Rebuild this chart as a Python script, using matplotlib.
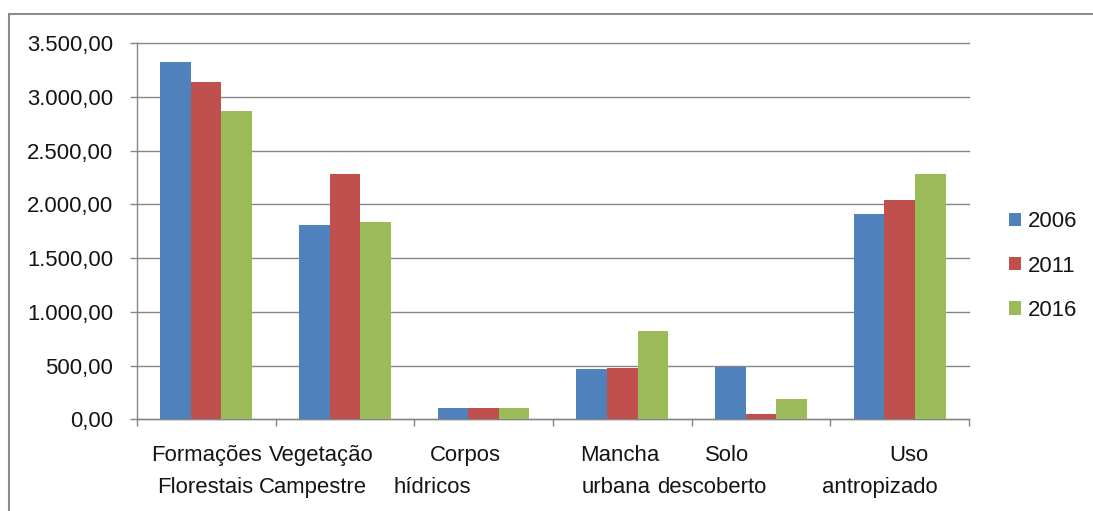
import matplotlib
matplotlib.use("Agg")
import matplotlib.pyplot as plt
from matplotlib.patches import Rectangle
from matplotlib.ticker import FuncFormatter
import matplotlib.transforms as mtransforms
import numpy as np

plt.rcParams['font.family'] = ['Liberation Sans', 'DejaVu Sans']

categories = [("Formações", "Florestais"), ("Vegetação", "Campestre"), ("Corpos", "hídricos"),
              ("Mancha", "urbana"), ("Solo", "descoberto"), ("Uso", "antropizado")]
series_names = ["2006", "2011", "2016"]
v2006 = [3329, 1812, 108, 465, 487, 1908]
v2011 = [3140, 2286, 108, 475, 49, 2038]
v2016 = [2867, 1837, 108, 819, 192, 2286]
yticks = [0, 500, 1000, 1500, 2000, 2500, 3000, 3500]

colors = ["#4F81BD", "#C0504D", "#9BBB59"]
# per-line horizontal label offsets (px) to mimic the original layout
off1 = [0.4, -23.4, -18.3, -2.3, -33.8, 9.3]
off2 = [-0.5, -31.9, -51.3, -6.5, -49.0, -19.5]

W, H = 1093, 511
fig = plt.figure(figsize=(W / 100, H / 100), dpi=100)
ax = fig.add_axes([136.8 / W, 1 - 419.3 / H, (969 - 136.8) / W, (419.3 - 43.3) / H])

x = np.arange(len(categories))
bw = 0.2206
for i, (vals, c, name) in enumerate(zip([v2006, v2011, v2016], colors, series_names)):
    ax.bar(x + (i - 1) * bw, vals, width=bw, color=c, label=name, zorder=3, linewidth=0)

grey = "#868686"
txt = "#141414"
fs = 15.9
ax.set_xlim(-0.5, len(categories) - 0.5)
ax.set_ylim(0, 3500)
ax.set_yticks(yticks)
ax.yaxis.set_major_formatter(FuncFormatter(
    lambda v, p: "{:,.2f}".format(v).replace(",", "X").replace(".", ",").replace("X", ".")))
ax.yaxis.grid(True, color=grey, linewidth=1.0, zorder=0)
for gl in ax.yaxis.get_gridlines():
    gl.set_clip_on(False)
ax.set_axisbelow(True)
ax.tick_params(axis='y', length=5, width=1, color=grey, pad=11.9, labelsize=fs, labelcolor=txt)

ax.set_xticks(x)
ax.set_xticklabels([])
ax.tick_params(axis='x', which='major', length=0)
ax.set_xticks(np.arange(-0.5, len(categories)), minor=True)
ax.tick_params(axis='x', which='minor', length=5, width=1, color=grey)

for s in ["top", "right"]:
    ax.spines[s].set_visible(False)
for s in ["left", "bottom"]:
    ax.spines[s].set_color(grey)
    ax.spines[s].set_linewidth(1.0)

trans = mtransforms.blended_transform_factory(ax.transData, ax.transAxes)
for i, (l1, l2) in enumerate(categories):
    ax.annotate(l1, xy=(x[i], 0), xycoords=trans, xytext=(off1[i] * 0.72, -36.5 * 0.72),
                textcoords='offset points', ha='center', va='center', fontsize=fs, color=txt,
                annotation_clip=False)
    ax.annotate(l2, xy=(x[i], 0), xycoords=trans, xytext=(off2[i] * 0.72, -68.5 * 0.72),
                textcoords='offset points', ha='center', va='center', fontsize=fs, color=txt,
                annotation_clip=False)

leg = fig.legend(loc='center left', bbox_to_anchor=(1009 / W, 1 - 266 / H),
                 frameon=False, fontsize=fs, handlelength=0.55, handleheight=0.55,
                 handletextpad=0.32, labelspacing=1.05, borderpad=0, borderaxespad=0)
for t in leg.get_texts():
    t.set_color(txt)

fig.add_artist(Rectangle((9.3 / W, -0.5), 2.0, 0.5 + (1 - 13.7 / H), transform=fig.transFigure,
                         fill=False, edgecolor="#8c8c8c", linewidth=1.5))

fig.savefig("out.png", dpi=100)
